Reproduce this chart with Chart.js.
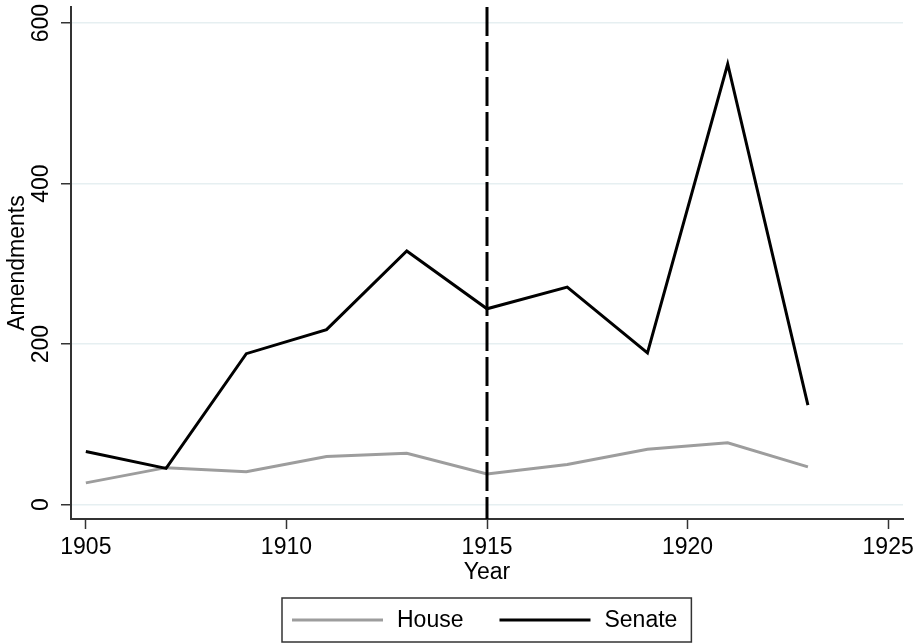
<!DOCTYPE html>
<html><head><meta charset="utf-8">
<script src="https://cdn.jsdelivr.net/npm/chart.js@4"></script>
<style>html,body{margin:0;padding:0;background:#fff;overflow:hidden}</style>
</head><body>
<canvas id="c" width="916" height="644"></canvas>
<script>
const years = [1905, 1907, 1909, 1911, 1913, 1915, 1917, 1919, 1921, 1923];
const house = [27, 46, 41, 60, 64, 38, 50, 69, 77, 47];
const senate = [66, 45, 188, 218, 316, 244, 271, 189, 549, 124];
const xTicks = [1905, 1910, 1915, 1920, 1925];
const yTicks = [0, 200, 400, 600];
const cutoffYear = 1915;
const seriesLabels = ['House', 'Senate'];
const xTitle = 'Year';
const yTitle = 'Amendments';

const FONT = 'Liberation Sans, Arial, Helvetica, sans-serif';
const FS = 23;
const AXIS = '#333333';
const colors = ['#9d9d9d', '#000000'];

const cutoffPlugin = {
  id: 'cutoff',
  afterDatasetsDraw(chart) {
    const {ctx, chartArea, scales} = chart;
    const x = scales.x.getPixelForValue(cutoffYear);
    ctx.save();
    ctx.strokeStyle = '#000';
    ctx.lineWidth = 3;
    ctx.setLineDash([29, 6]);
    ctx.beginPath();
    ctx.moveTo(x, chartArea.top);
    ctx.lineTo(x, chartArea.bottom);
    ctx.stroke();
    ctx.restore();
  }
};

const legendPlugin = {
  id: 'boxLegend',
  afterDraw(chart) {
    const {ctx, chartArea} = chart;
    ctx.save();
    ctx.font = FS + 'px ' + FONT;
    const padL = 10, lineW = 91, gap = 14, itemGap = 36, padR = 14;
    const widths = seriesLabels.map(t => ctx.measureText(t).width);
    let total = padL + padR;
    widths.forEach((w, i) => { total += lineW + gap + w + (i < widths.length - 1 ? itemGap : 0); });
    const cx = (chartArea.left + chartArea.right) / 2;
    const left = Math.round(cx - total / 2);
    const top = 598, h = 44;
    ctx.strokeStyle = AXIS;
    ctx.lineWidth = 1.5;
    ctx.strokeRect(left, top, total, h);
    const cy = top + h / 2;
    let x = left + padL;
    chart.data.datasets.forEach((ds, i) => {
      ctx.strokeStyle = ds.borderColor;
      ctx.lineWidth = 3;
      ctx.beginPath();
      ctx.moveTo(x, cy);
      ctx.lineTo(x + lineW, cy);
      ctx.stroke();
      x += lineW + gap;
      ctx.fillStyle = '#000';
      ctx.textBaseline = 'middle';
      ctx.textAlign = 'left';
      ctx.fillText(ds.label, x, cy + 1);
      x += widths[i] + itemGap;
    });
    ctx.restore();
  }
};

new Chart(document.getElementById('c'), {
  type: 'line',
  data: {
    datasets: [
      {
        label: seriesLabels[0],
        data: years.map((y, i) => ({x: y, y: house[i]})),
        borderColor: colors[0],
        borderWidth: 3,
        pointRadius: 0,
        tension: 0,
        order: 2
      },
      {
        label: seriesLabels[1],
        data: years.map((y, i) => ({x: y, y: senate[i]})),
        borderColor: colors[1],
        borderWidth: 3,
        pointRadius: 0,
        tension: 0,
        order: 1
      }
    ]
  },
  options: {
    responsive: false,
    animation: false,
    devicePixelRatio: 1,
    layout: {padding: {left: 0, top: 7, right: 13, bottom: 55}},
    plugins: {legend: {display: false}, tooltip: {enabled: false}},
    scales: {
      x: {
        type: 'linear',
        min: 1904.63,
        max: 1925.37,
        afterBuildTicks: s => { s.ticks = xTicks.map(v => ({value: v})); },
        afterFit: s => { s.height = 70; s.paddingLeft = 0; s.paddingRight = 0; },
        grid: {drawOnChartArea: false, drawTicks: true, tickLength: 10, tickColor: AXIS, tickWidth: 1.5},
        border: {color: AXIS, width: 2},
        ticks: {font: {family: FONT, size: FS, lineHeight: 1.2}, color: '#000', padding: 5, maxRotation: 0, autoSkip: false, callback: v => String(v)},
        title: {display: true, text: xTitle, color: '#000', font: {family: FONT, size: FS, lineHeight: 1}, padding: {top: 0, bottom: 5}}
      },
      y: {
        type: 'linear',
        min: -18,
        max: 620,
        afterBuildTicks: s => { s.ticks = yTicks.map(v => ({value: v})); },
        afterFit: s => { s.width = 71; s.paddingTop = 0; s.paddingBottom = 0; },
        grid: {color: '#e6eff1', lineWidth: 1.5, drawTicks: true, tickLength: 10, tickColor: AXIS, tickWidth: 1.5},
        border: {color: AXIS, width: 2},
        ticks: {font: {family: FONT, size: FS, lineHeight: 1.2}, color: '#000', padding: 0, minRotation: 90, maxRotation: 90, crossAlign: 'center', autoSkip: false, callback: v => String(v)},
        title: {display: true, text: yTitle, color: '#000', font: {family: FONT, size: FS, lineHeight: 1}, padding: {top: 6, bottom: 0}}
      }
    }
  },
  plugins: [cutoffPlugin, legendPlugin]
});
</script>
</body></html>
